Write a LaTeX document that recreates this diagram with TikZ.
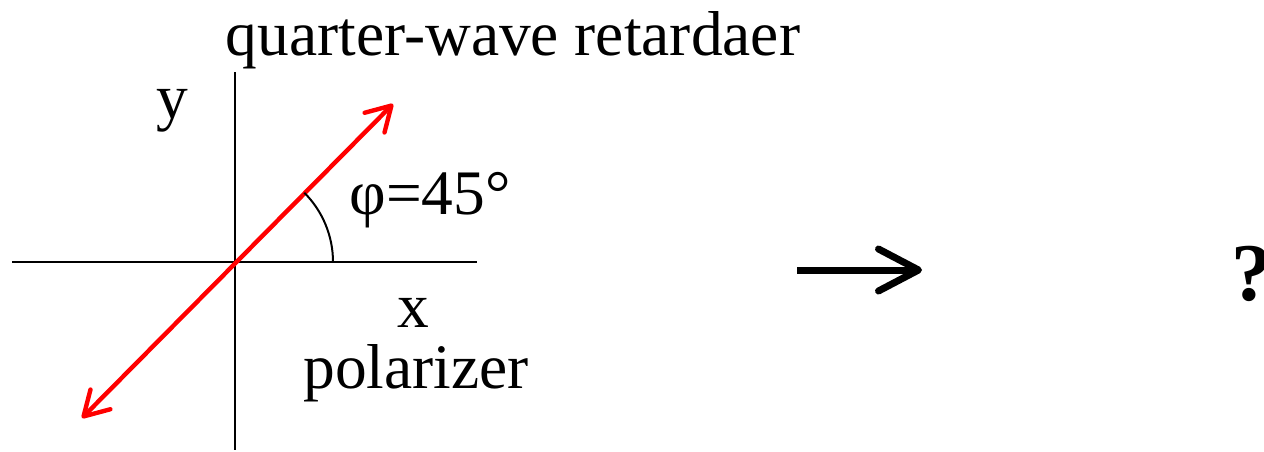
\documentclass[tikz,border=0pt]{standalone}
\usepackage{fontspec}
\setmainfont{Liberation Serif}
\usetikzlibrary{arrows.meta,positioning,calc}

\begin{document}
\begin{tikzpicture}[
    x=0.5pt, y=-0.5pt,
    lbl/.style={inner sep=0pt, anchor=base, font=\fontsize{31.7}{38}\selectfont},
    axis/.style={line width=1pt},
    pol/.style={draw=red, line width=2.2pt, line cap=round,
      {Straight Barb[length=12pt, width=14pt, round]}-{Straight Barb[length=12pt, width=14pt, round]}},
    big/.style={line width=3.5pt, -{Straight Barb[length=20pt, width=21pt, round]}},
  ]
  \useasboundingbox (0,0) rectangle (1264,451);

  % axes
  \coordinate (O) at (235,262);
  \coordinate (xl) at (12,262);
  \coordinate (xr) at (477,262);
  \coordinate (yt) at (235,72);
  \coordinate (yb) at (235,450);
  \draw[axis] (xl) -- (xr);
  \draw[axis] (yt) -- (yb);

  % polarizer axis at 45 degrees
  \coordinate (pA) at (393,104);
  \coordinate (pB) at (82,418);
  \draw[pol] (pB) -- (pA);
  \draw[axis] ($(O)+(98,0)$) arc[start angle=0, end angle=-45, radius=98];

  \node[lbl] (title) at (513,55) {quarter-wave retardaer};
  \node[lbl] (ylab) at (172,118) {y};
  \node[lbl] (phi) at (430,214) {φ=45°};
  \node[lbl] (xlab) at (413,327) {x};
  \node[lbl] (pol) at (416,388) {polarizer};

  % result
  \coordinate (a1) at (797,270);
  \coordinate (a2) at (922,270);
  \draw[big] (a1) -- (a2);
  \node[lbl, anchor=base west, font=\fontsize{41}{48}\selectfont\bfseries] (q) at (1231,300) {?};
\end{tikzpicture}
\end{document}
